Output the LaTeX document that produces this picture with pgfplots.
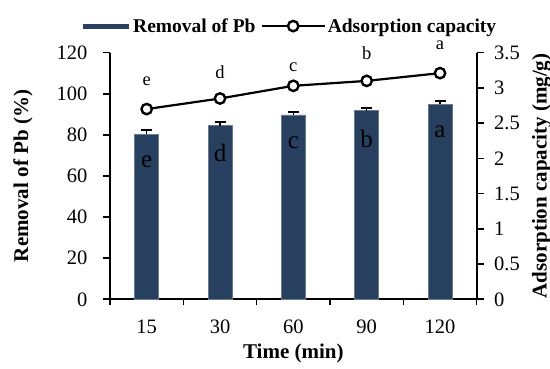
\documentclass[border=0pt]{standalone}
\usepackage{pgfplots}
\pgfplotsset{compat=1.18}
\usepackage{fontspec}
\setmainfont{Liberation Serif}
\definecolor{barblue}{RGB}{39,64,96}
\pgfplotsset{
  myaxis/.style={
    at={(0,0)}, anchor=south west,
    scale only axis, width=366.7pt, height=246.6pt,
    xmin=-0.5, xmax=4.5,
    tick align=outside, major tick length=7pt, minor tick length=6pt,
    tick style={line width=1.6pt, black},
    x axis line style={-, line width=1.8pt},
    y axis line style={-, line width=1.8pt},
    tick label style={font=\fontsize{20.5}{23}\selectfont},
    label style={font=\fontsize{21}{24}\selectfont\bfseries},
    /pgf/number format/assume math mode=true,
    clip=false,
  }
}
\begin{document}
\begin{tikzpicture}
\useasboundingbox (-110pt,-69.7pt) rectangle (440pt,299.3pt);
\begin{axis}[
  myaxis,
  ymin=0, ymax=120,
  axis x line*=bottom, axis y line*=left,
  xtick={0,1,2,3,4}, xticklabels={15,30,60,90,120},
  minor xtick={-0.5,0.5,1.5,2.5,3.5,4.5},
  major x tick style={draw=none},
  xticklabel style={yshift=-10pt},
  yticklabel style={xshift=-12pt},
  ytick={0,20,...,120},
  xlabel={Time (min)},
  xlabel style={at={(axis description cs:0.5,-0.22)}, anchor=center},
  ylabel={Removal of Pb (\%)},
  ylabel style={at={(axis description cs:-0.237,0.5)}, anchor=center},
]
\addplot[ybar, bar width=24pt, fill=barblue, draw=barblue!70!white, line width=0.6pt,
  error bars/.cd, y dir=plus, y explicit,
  error bar style={line width=1.5pt, black},
  error mark options={rotate=90, mark size=5.5pt, line width=2.2pt, black}]
  coordinates {
  (0,80.3) +- (0,2.1)
  (1,84.5) +- (0,1.6)
  (2,89.7) +- (0,1.4)
  (3,91.8) +- (0,1.4)
  (4,95.0) +- (0,1.5)
  };
\node[font=\fontsize{25}{27}\selectfont] at (axis cs:0,67) {e};
\node[font=\fontsize{25}{27}\selectfont] at (axis cs:1,71.2) {d};
\node[font=\fontsize{25}{27}\selectfont] at (axis cs:2,76.2) {c};
\node[font=\fontsize{25}{27}\selectfont] at (axis cs:3,77.9) {b};
\node[font=\fontsize{25}{27}\selectfont] at (axis cs:4,81.6) {a};
\end{axis}
\begin{axis}[
  myaxis,
  ymin=0, ymax=3.5,
  axis y line*=right, axis x line=none,
  ytick={0,0.5,...,3.5},
  yticklabel style={xshift=7pt},
  ylabel={Adsorption capacity (mg/g)},
  ylabel style={at={(axis description cs:1.177,0.5)}, anchor=center},
  legend style={at={(axis description cs:-0.09,1.108)}, anchor=west, draw=none, fill=none,
    legend columns=2, font=\fontsize{19.5}{22}\selectfont\bfseries,
    /tikz/every even column/.append style={column sep=3pt}},
]
\addlegendimage{legend image code/.code={\draw[barblue, line width=5pt] (0pt,0pt) -- (46pt,0pt);}}
\addlegendentry{Removal of Pb}
\addplot[black, line width=2.2pt, mark=*, mark size=5.2pt,
  mark options={fill=white, draw=black, line width=2.4pt},
  legend image code/.code={\draw[black, line width=2.2pt] (0pt,0pt) -- (63pt,0pt);
    \draw[black, line width=2.4pt, fill=white] (31.5pt,0pt) circle (5.2pt);}]
  coordinates {(0,2.70) (1,2.85) (2,3.03) (3,3.10) (4,3.21)};
\addlegendentry{Adsorption capacity}
\node[font=\fontsize{18.5}{20}\selectfont] at (axis cs:0,3.088) {e};
\node[font=\fontsize{18.5}{20}\selectfont] at (axis cs:1,3.23) {d};
\node[font=\fontsize{18.5}{20}\selectfont] at (axis cs:2,3.30) {c};
\node[font=\fontsize{18.5}{20}\selectfont] at (axis cs:3,3.496) {b};
\node[font=\fontsize{18.5}{20}\selectfont] at (axis cs:4,3.61) {a};
\end{axis}
\end{tikzpicture}
\end{document}
